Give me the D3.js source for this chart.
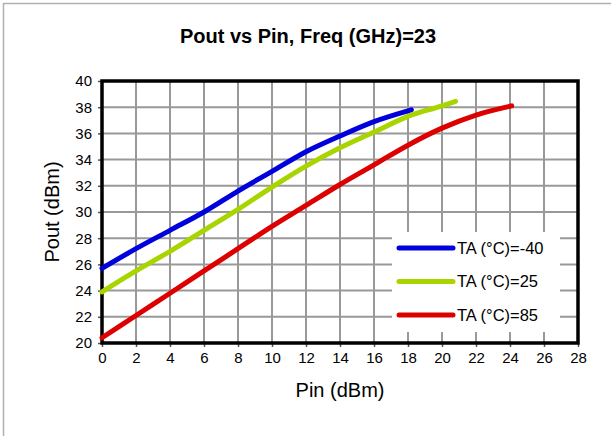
<!DOCTYPE html>
<html>
<head>
<meta charset="utf-8">
<title>Pout vs Pin</title>
<script src="https://cdn.jsdelivr.net/npm/d3@7"></script>
<style>
  body { margin: 0; background: #fff; }
  text { font-family: "Liberation Sans", Arial, sans-serif; fill: #000; }
</style>
</head>
<body>
<script>
// data
var seriesNames = ["TA (°C)=-40", "TA (°C)=25", "TA (°C)=85"];
var seriesColors = ["#0000dd", "#a8d400", "#dd0000"];

var pinM40  = [0, 2, 4, 6, 8, 10, 12, 14, 16, 18.2];
var poutM40 = [25.7, 27.2, 28.6, 30.0, 31.6, 33.1, 34.6, 35.8, 36.9, 37.8];

var pin25  = [0, 2, 4, 6, 8, 10, 12, 14, 16, 18, 20, 20.8];
var pout25 = [23.9, 25.5, 27.0, 28.6, 30.2, 31.9, 33.5, 34.9, 36.1, 37.3, 38.1, 38.45];

var pin85  = [0, 2, 4, 6, 8, 10, 12, 14, 16, 18, 20, 22, 24.1];
var pout85 = [20.4, 22.1, 23.8, 25.5, 27.2, 28.9, 30.5, 32.1, 33.6, 35.1, 36.4, 37.4, 38.1];

var xTicks = d3.range(0, 29, 2);
var yTicks = d3.range(20, 41, 2);

var series = [
    {name: seriesNames[0], color: seriesColors[0], pts: d3.zip(pinM40, poutM40)},
    {name: seriesNames[1], color: seriesColors[1], pts: d3.zip(pin25, pout25)},
    {name: seriesNames[2], color: seriesColors[2], pts: d3.zip(pin85, pout85)}
];

var width = 611, height = 436;
var margin = {top: 81, left: 102, right: 33, bottom: 93};

var svg = d3.select("body").append("svg")
    .attr("width", width)
    .attr("height", height);

// outer chart frame
svg.append("path")
    .attr("d", "M3.5," + height + "V3.5H" + width)
    .attr("fill", "none")
    .attr("stroke", "#b0b0b0")
    .attr("stroke-width", 1.5);

var x = d3.scaleLinear().domain([0, 28]).range([margin.left, width - margin.right]);
var y = d3.scaleLinear().domain([20, 40]).range([height - margin.bottom, margin.top]);

// title
svg.append("text")
    .attr("x", 308)
    .attr("y", 43)
    .attr("text-anchor", "middle")
    .style("font-size", "20px")
    .style("font-weight", "bold")
    .text("Pout vs Pin, Freq (GHz)=23");

// grid
var grid = svg.append("g").attr("stroke", "#999").attr("stroke-width", 2);
grid.selectAll("line.v").data(xTicks.slice(1, -1)).enter().append("line")
    .attr("x1", function (d) { return x(d); })
    .attr("x2", function (d) { return x(d); })
    .attr("y1", y(40)).attr("y2", y(20));
grid.selectAll("line.h").data(yTicks.slice(1, -1)).enter().append("line")
    .attr("x1", x(0)).attr("x2", x(28))
    .attr("y1", function (d) { return y(d); })
    .attr("y2", function (d) { return y(d); });

// axes
var xAxis = d3.axisBottom(x).tickValues(xTicks).tickSize(4).tickPadding(5);
var yAxis = d3.axisLeft(y).tickValues(yTicks).tickSize(4).tickPadding(6);

var gx = svg.append("g")
    .attr("transform", "translate(0," + y(20) + ")")
    .call(xAxis);
var gy = svg.append("g")
    .attr("transform", "translate(" + x(0) + ",0)")
    .call(yAxis);
[gx, gy].forEach(function (g) {
    g.select(".domain").remove();
    g.selectAll(".tick line").attr("stroke", "#555").attr("stroke-width", 1.5);
    g.selectAll(".tick text").style("font-size", "15px").style("font-family", "Liberation Sans, Arial, sans-serif");
});

// plot frame
svg.append("rect")
    .attr("x", x(0)).attr("y", y(40))
    .attr("width", x(28) - x(0))
    .attr("height", y(20) - y(40))
    .attr("fill", "none")
    .attr("stroke", "#000")
    .attr("stroke-width", 3.5);

// legend background hides the grid
var legX = 392, legY = 232;
svg.append("rect")
    .attr("x", legX).attr("y", legY)
    .attr("width", 168).attr("height", 100)
    .attr("fill", "#fff");

// lines
var line = d3.line()
    .x(function (d) { return x(d[0]); })
    .y(function (d) { return y(d[1]); })
    .curve(d3.curveMonotoneX);

svg.selectAll("path.series").data(series).enter().append("path")
    .attr("class", "series")
    .attr("d", function (d) { return line(d.pts); })
    .attr("fill", "none")
    .attr("stroke", function (d) { return d.color; })
    .attr("stroke-width", 5)
    .attr("stroke-linecap", "round")
    .attr("stroke-linejoin", "round");

// legend
var leg = svg.selectAll("g.leg").data(series).enter().append("g")
    .attr("class", "leg")
    .attr("transform", function (d, i) { return "translate(" + (legX + 7) + "," + (legY + 16 + i * 33.5) + ")"; });
leg.append("line")
    .attr("x1", 0).attr("x2", 54)
    .attr("stroke", function (d) { return d.color; })
    .attr("stroke-width", 5)
    .attr("stroke-linecap", "round");
leg.append("text")
    .attr("x", 58)
    .attr("dy", "0.35em")
    .style("font-size", "16.5px")
    .text(function (d) { return d.name; });

// axis titles
svg.append("text")
    .attr("x", x(14))
    .attr("y", 397)
    .attr("text-anchor", "middle")
    .style("font-size", "20px")
    .text("Pin (dBm)");

svg.append("text")
    .attr("transform", "translate(59," + y(30) + ") rotate(-90)")
    .attr("text-anchor", "middle")
    .style("font-size", "20px")
    .text("Pout (dBm)");
</script>
</body>
</html>
